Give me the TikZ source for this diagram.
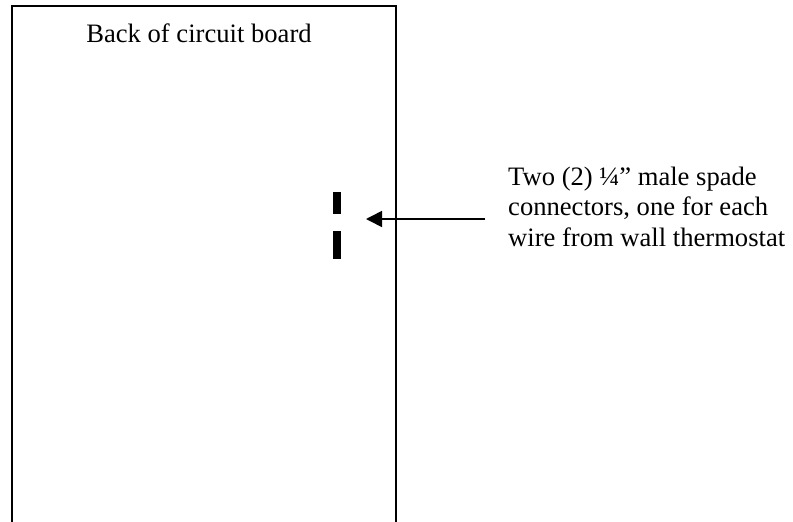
\documentclass[tikz,border=0pt]{standalone}
\usepackage{fontspec}
\setmainfont{Liberation Serif}
\usetikzlibrary{arrows.meta}
\begin{document}
\begin{tikzpicture}[x=1pt,y=-1pt,
  board/.style={line width=2pt},
  spade/.style={fill=black,draw=none},
  lbl/.style={inner sep=0pt,font=\fontsize{26.6}{30.5}\selectfont},
  pointer/.style={line width=1.6pt,-{Triangle[length=16pt,width=16pt]}}]
\useasboundingbox (0,0) rectangle (793,522);
\draw[board] (12,523) -- (12,6) -- (396,6) -- (396,523);
\node[lbl,anchor=base] (title) at (199,42) {Back of circuit board};
\fill[spade] (333,192) rectangle (341,214);
\fill[spade] (333,231) rectangle (341,259);
\coordinate (tip) at (366,219);
\coordinate (tail) at (485,219);
\node[lbl,anchor=base west,align=left] (note) at (508,246) {Two (2) ¼” male spade\\connectors, one for each\\wire from wall thermostat};
\draw[pointer] (tail) -- (tip);
\end{tikzpicture}
\end{document}
